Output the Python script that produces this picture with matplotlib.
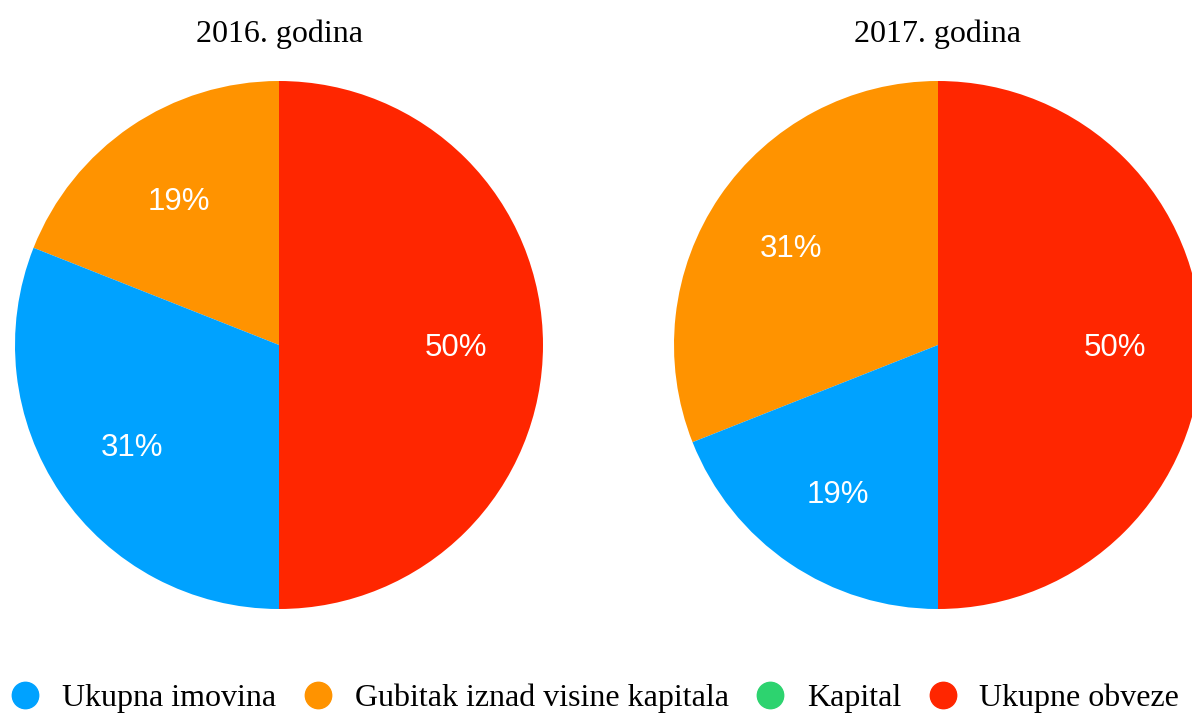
import matplotlib
matplotlib.use("Agg")
import matplotlib.pyplot as plt
from matplotlib.lines import Line2D

categories = ["Ukupna imovina", "Gubitak iznad visine kapitala", "Kapital", "Ukupne obveze"]
colors = ["#00a2ff", "#ff9300", "#2dd36f", "#ff2600"]
years = ["2016. godina", "2017. godina"]
values_2016 = [31, 19, 0, 50]
values_2017 = [19, 31, 0, 50]
draw_order = [1, 0, 2, 3]  # counter-clockwise from the top

W, H = 1192, 713
fig = plt.figure(figsize=(W / 100, H / 100), dpi=100)

serif = ["Liberation Serif", "DejaVu Serif"]
sans = ["Liberation Sans", "DejaVu Sans"]

R = 264
centers = [(279, 345), (938, 345)]
for (cx, cy), title, vals in zip(centers, years, [values_2016, values_2017]):
    ax = fig.add_axes([(cx - R) / W, (H - cy - R) / H, 2 * R / W, 2 * R / H])
    v = [vals[i] for i in draw_order]
    c = [colors[i] for i in draw_order]
    lbls = [f"{x}%" if x > 0 else "" for x in v]
    wedges, texts = ax.pie(v, colors=c, startangle=90, counterclock=True,
                           labels=lbls, labeldistance=0.672, radius=1.0,
                           wedgeprops=dict(linewidth=0),
                           textprops=dict(color="white", fontsize=22.5, family=sans))
    for t in texts:
        t.set_ha("center")
        t.set_va("center_baseline")
    ax.set_xlim(-1, 1)
    ax.set_ylim(-1, 1)
    ax.set_aspect("equal")
    ax.axis("off")
    fig.text(cx / W, 1 - 31 / H, title, ha="center", va="center_baseline", fontsize=23, family=serif)

handles = [Line2D([], [], marker="o", linestyle="none", markersize=19,
                  markerfacecolor=col, markeredgecolor=col) for col in colors]
fig.legend(handles, categories, loc="center", bbox_to_anchor=(0.5, 1 - 698 / H),
           ncol=4, frameon=False, prop=dict(family=serif, size=23),
           handletextpad=0.75, columnspacing=0.9, handlelength=0.8, borderaxespad=0,
           borderpad=0)

fig.savefig("out.png", dpi=100)
